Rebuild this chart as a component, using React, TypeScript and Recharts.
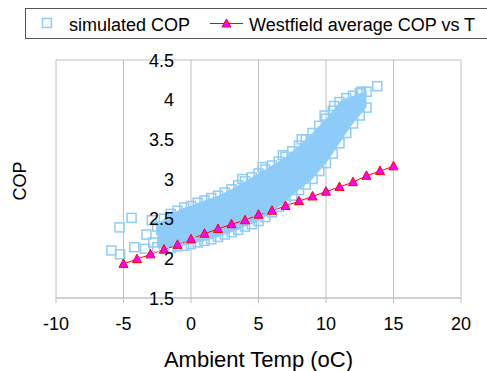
import React from "react";
import {
  ComposedChart,
  Scatter,
  Line,
  Area,
  XAxis,
  YAxis,
  CartesianGrid,
} from "recharts";

// Westfield average COP per ambient temperature
const westfieldTemp = [-5, -4, -3, -2, -1, 0, 1, 2, 3, 4, 5, 6, 7, 8, 9, 10, 11, 12, 13, 14, 15];
const westfieldCop = [
  1.93, 1.99, 2.05, 2.11, 2.17, 2.24, 2.31, 2.37, 2.43, 2.48, 2.55,
  2.6, 2.66, 2.72, 2.78, 2.84, 2.9, 2.96, 3.04, 3.1, 3.16,
];

// dense part of the simulated cloud (lower / upper edge per temperature)
const bandTemp = [
  -2.5, -2, -1.5, -1, -0.5, 0, 0.5, 1, 1.5, 2, 2.5, 3, 3.5, 4, 4.5, 5,
  5.5, 6, 6.5, 7, 7.5, 8, 8.5, 9, 9.5, 10, 10.5, 11, 11.5, 12, 12.5, 13,
];
const bandLow = [
  2.14, 2.12, 2.13, 2.15, 2.16, 2.18, 2.2, 2.22, 2.24, 2.27, 2.3, 2.33, 2.36, 2.4, 2.43, 2.47,
  2.52, 2.58, 2.65, 2.72, 2.79, 2.86, 2.93, 3.0, 3.1, 3.2, 3.32, 3.45, 3.58, 3.7, 3.8, 3.9,
];
const bandHigh = [
  2.4, 2.5, 2.56, 2.6, 2.64, 2.66, 2.7, 2.73, 2.76, 2.79, 2.83, 2.87, 2.92, 2.97, 3.02, 3.07,
  3.12, 3.17, 3.22, 3.28, 3.35, 3.42, 3.5, 3.58, 3.67, 3.76, 3.86, 3.97, 4.02, 4.05, 4.08, 4.1,
];

// scattered simulated points outside the dense band
const simOutliers: [number, number][] = [
  [-5.9, 2.1], [-5.25, 2.05], [-5.3, 2.39], [-4.4, 2.51], [-4.2, 2.14],
  [-3.4, 2.12], [-3.3, 2.3], [-2.9, 2.48], [-2.2, 2.36], [-2.8, 2.2],
  [3.8, 3.0], [5.3, 3.15], [6.8, 3.3], [8.2, 3.5], [9.9, 3.8],
  [10.6, 3.92], [12.6, 4.1], [13.8, 4.17],
];

const xTicks = [-10, -5, 0, 5, 10, 15, 20];
const yTicks = [1.5, 2, 2.5, 3, 3.5, 4, 4.5];

const BLUE = "#8DCCF9";
const GRID = "#c0c0c0";
const FONT = "'Liberation Sans', Arial, sans-serif";

const W = 487;
const H = 371;
const PLOT_LEFT = 56;
const PLOT_RIGHT = 461;
const PLOT_TOP = 60;
const PLOT_BOTTOM = 298;
const X_MIN = -10;
const X_MAX = 20;
const Y_MIN = 1.5;
const Y_MAX = 4.5;
// the value axis crosses at temp = 0, so its labels sit there (drawn above the data)
const ZERO_X = PLOT_LEFT + ((PLOT_RIGHT - PLOT_LEFT) * (0 - X_MIN)) / (X_MAX - X_MIN);
const tickY = (v: number) => PLOT_BOTTOM - ((v - Y_MIN) / (Y_MAX - Y_MIN)) * (PLOT_BOTTOM - PLOT_TOP);

const westfield = westfieldTemp.map((t, i) => ({ temp: t, cop: westfieldCop[i] }));
const band = bandTemp.map((t, i) => ({ temp: t, range: [bandLow[i], bandHigh[i]] }));
const simulated = [
  ...simOutliers.map(([t, c]) => ({ temp: t, cop: c })),
  ...bandTemp.map((t, i) => ({ temp: t, cop: bandLow[i] })),
  ...bandTemp.map((t, i) => ({ temp: t, cop: bandHigh[i] })),
];

const HollowSquare = (props: any) => {
  const { cx, cy } = props;
  if (cx == null || cy == null) return null;
  return (
    <rect x={cx - 4.5} y={cy - 4.5} width={9} height={9} fill="none" stroke={BLUE} strokeWidth={1.5} />
  );
};

const Triangle = (props: any) => {
  const { cx, cy, index } = props;
  if (cx == null || cy == null) return null;
  return (
    <path
      key={index}
      d={`M${cx},${cy - 5} L${cx + 4.5},${cy + 3.5} L${cx - 4.5},${cy + 3.5} Z`}
      fill="#ff00ff"
      stroke="#ff0000"
      strokeWidth={1}
    />
  );
};

function Overlay() {
  return (
    <svg width={W} height={H} style={{ position: "absolute", left: 0, top: 0, pointerEvents: "none" }}>
      <rect x={25.5} y={8.5} width={480} height={30} fill="#fff" stroke="#555" strokeWidth={1} />
      <rect x={42.5} y={18.5} width={9} height={9} fill="none" stroke={BLUE} strokeWidth={1.5} />
      <text x={69} y={31} fontSize={18} fontFamily={FONT} fill="#000">
        simulated COP
      </text>
      <line x1={210} y1={23.5} x2={243} y2={23.5} stroke="#ff0000" strokeWidth={1} />
      <path d="M226.5,19 L231,27 L222,27 Z" fill="#ff00ff" stroke="#ff0000" strokeWidth={1} />
      <text x={249} y={31} fontSize={18} fontFamily={FONT} fill="#000">
        Westfield average COP vs T
      </text>
      {yTicks.map((v) => (
        <text
          key={v}
          x={ZERO_X - 17}
          y={tickY(v) + 6.5}
          textAnchor="end"
          fontSize={18}
          fontFamily={FONT}
          fill="#000"
        >
          {v}
        </text>
      ))}
    </svg>
  );
}

export default function App() {
  return (
    <div
      style={{
        position: "absolute",
        left: 0,
        top: 0,
        width: W,
        height: H,
        overflow: "hidden",
        background: "#fff",
      }}
    >
      <ComposedChart width={W} height={H} margin={{ top: 60, right: 26, bottom: 41, left: 16 }}>
        <CartesianGrid stroke={GRID} />
        <XAxis
          dataKey="temp"
          type="number"
          domain={[X_MIN, X_MAX]}
          ticks={xTicks}
          allowDataOverflow
          height={32}
          stroke={GRID}
          tickSize={5}
          tickMargin={14}
          tick={{ fill: "#000", fontSize: 18, fontFamily: FONT }}
          label={(p: any) => (
            <text
              x={p.viewBox.x + p.viewBox.width / 2}
              y={367}
              textAnchor="middle"
              fontSize={22}
              fontFamily={FONT}
              fill="#000"
            >
              Ambient Temp (oC)
            </text>
          )}
        />
        <YAxis
          type="number"
          domain={[Y_MIN, Y_MAX]}
          ticks={yTicks}
          allowDataOverflow
          width={40}
          axisLine={false}
          tickLine={false}
          tick={false}
          label={(p: any) => (
            <text
              x={26}
              y={181}
              transform="rotate(-90 26 181)"
              textAnchor="middle"
              fontSize={18}
              fontFamily={FONT}
              fill="#000"
            >
              COP
            </text>
          )}
        />
        <Area
          data={band}
          dataKey="range"
          type="linear"
          fill={BLUE}
          fillOpacity={1}
          stroke="none"
          isAnimationActive={false}
        />
        <Scatter
          data={simulated}
          dataKey="cop"
          name="simulated COP"
          shape={HollowSquare}
          isAnimationActive={false}
        />
        <Line
          data={westfield}
          dataKey="cop"
          name="Westfield average COP vs T"
          stroke="#ff0000"
          strokeWidth={1}
          dot={Triangle}
          activeDot={false}
          isAnimationActive={false}
        />
      </ComposedChart>
      <Overlay />
    </div>
  );
}
